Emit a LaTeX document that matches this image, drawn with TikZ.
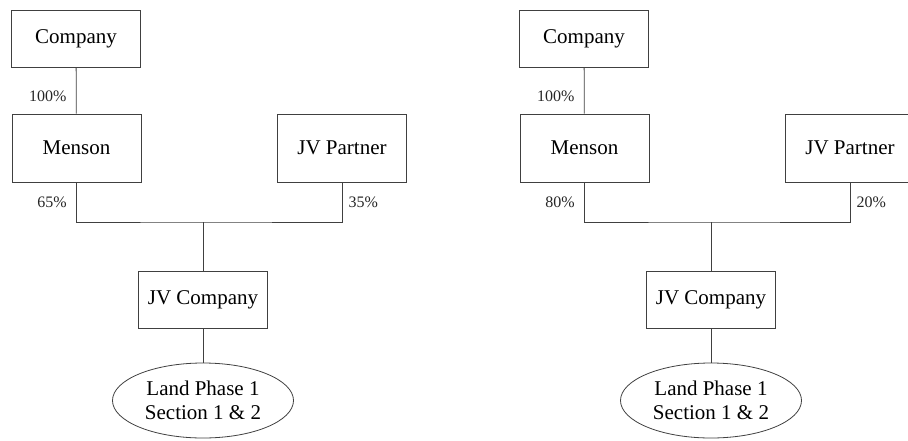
\documentclass[tikz,border=0pt]{standalone}
\usepackage{fontspec}
\setmainfont{Liberation Serif}
\usetikzlibrary{shapes.geometric}

\tikzset{
  entity/.style={draw=black!75, line width=0.8pt, inner sep=0pt,
    minimum width=129, minimum height=57,
    font=\fontsize{21}{24}\selectfont},
  holder/.style={entity, minimum height=68},
  land/.style={ellipse, draw=black!75, line width=0.8pt, inner sep=0pt,
    minimum width=181, minimum height=75, align=center,
    font=\fontsize{21}{24}\selectfont},
  link/.style={draw=black!75, line width=0.8pt},
  share/.style={font=\fontsize{16}{19}\selectfont, text=black!85}
}

\begin{document}
\begin{tikzpicture}[x=1pt,y=-1pt]
  \useasboundingbox (0,0) rectangle (908,440);

  % Structure with 65/35 split
  \node[entity] (compA) at (76,38.5) {Company};
  \node[holder] (mensA) at (76.5,148) {Menson};
  \node[holder] (partA) at (342,148) {JV Partner};
  \node[entity] (jvcoA) at (203,299.5) {JV Company};
  \node[land]   (landA) at (203,400.5) {Land Phase 1\\Section 1 \& 2};
  \coordinate (joinA) at (jvcoA.north |- 0,222);
  \draw[link] (compA) -- node[share,pos=0.62,left=6pt] {100\%} (mensA);
  \draw[link] (mensA.south) |- node[share,pos=0.25,left=6pt] {65\%} (joinA)
    -| node[share,pos=0.75,right=3pt] {35\%} (partA.south);
  \draw[link] (joinA) -- (jvcoA);
  \draw[link] (jvcoA) -- (landA);

  % Structure with 80/20 split
  \node[entity] (compB) at (584,38.5) {Company};
  \node[holder] (mensB) at (584.5,148) {Menson};
  \node[holder] (partB) at (850,148) {JV Partner};
  \node[entity] (jvcoB) at (711,299.5) {JV Company};
  \node[land]   (landB) at (711,400.5) {Land Phase 1\\Section 1 \& 2};
  \coordinate (joinB) at (jvcoB.north |- 0,222);
  \draw[link] (compB) -- node[share,pos=0.62,left=6pt] {100\%} (mensB);
  \draw[link] (mensB.south) |- node[share,pos=0.25,left=6pt] {80\%} (joinB)
    -| node[share,pos=0.75,right=3pt] {20\%} (partB.south);
  \draw[link] (joinB) -- (jvcoB);
  \draw[link] (jvcoB) -- (landB);
\end{tikzpicture}
\end{document}
